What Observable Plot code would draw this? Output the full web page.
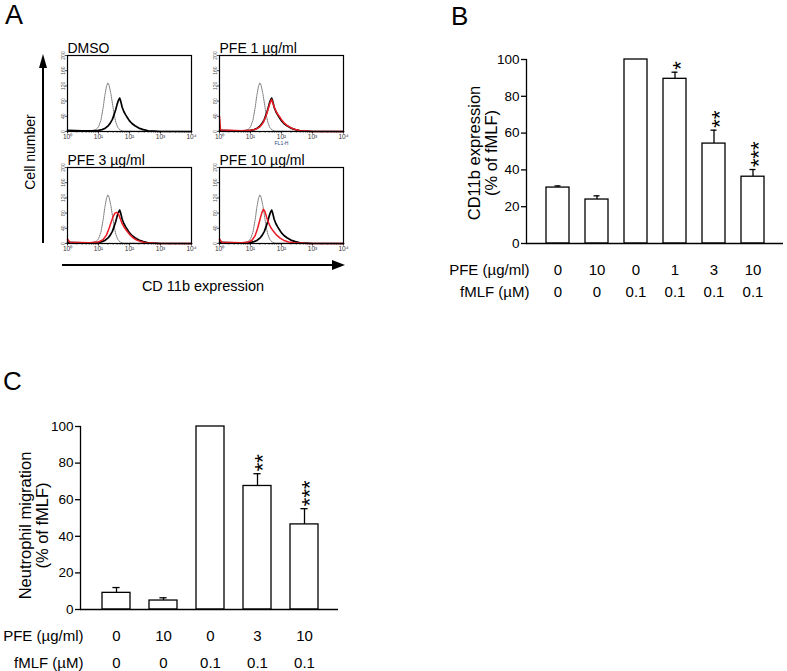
<!DOCTYPE html>
<html>
<head>
<meta charset="utf-8">
<script src="https://cdn.jsdelivr.net/npm/d3@7"></script>
<script src="https://cdn.jsdelivr.net/npm/@observablehq/plot@0.6"></script>
<style>
html,body{margin:0;padding:0;background:#fff;}
#root{position:relative;width:787px;height:671px;overflow:hidden;background:#fff;font-family:"Liberation Sans",Arial,Helvetica,sans-serif;color:#000;}
#root > *{position:absolute;}
.txt{white-space:nowrap;line-height:1;}
</style>
</head>
<body>
<div id="root"></div>
<script>
// ================= DATA =================
// ---- Panel A: CD11b flow-cytometry histograms (FL1-H, log scale) ----
const histTitles = ["DMSO", "PFE 1 µg/ml", "PFE 3 µg/ml", "PFE 10 µg/ml"];
const histDecades = [1, 10, 100, 1000, 10000];
const histDecadeLabels = ["10⁰", "10¹", "10²", "10³", "10⁴"];
const histYTicks = [0, 40, 80, 120, 160, 200];
const histXLabel = "FL1-H";
const panelAYLabel = "Cell number";
const panelAXLabel = "CD 11b expression";

// resting control (grey dotted)
const isoX = [1, 3, 6, 8, 10, 12, 14, 16, 18, 20, 22, 25, 28, 32, 36, 42, 50, 60, 10000];
const isoY = [2, 1, 2, 4, 12, 30, 60, 95, 118, 128, 122, 100, 75, 45, 25, 10, 4, 1, 0];
// fMLF-stimulated (black)
const fmlfX = [1, 3, 6, 10, 13, 16, 20, 24, 28, 32, 36, 40, 44, 48, 52, 58, 66, 76, 88, 100, 120, 150, 200, 280, 400, 600, 1000, 10000];
const fmlfY = [3, 2, 2, 3, 5, 8, 14, 22, 32, 45, 58, 72, 82, 88, 80, 64, 52, 43, 35, 28, 21, 15, 9, 5, 2, 1, 0, 0];
// fMLF + PFE 1 µg/ml (red)
const pfe1X = [1, 1.08, 2, 5, 10, 15, 20, 26, 32, 38, 43, 48, 53, 60, 68, 78, 90, 100, 120, 150, 200, 280, 400, 600, 1000, 10000];
const pfe1Y = [40, 4, 3, 2, 3, 6, 12, 24, 42, 62, 76, 84, 74, 62, 52, 44, 37, 31, 23, 16, 10, 5, 2, 1, 0, 0];
// fMLF + PFE 3 µg/ml (red)
const pfe3X = [1, 1.2, 5, 10, 14, 18, 22, 26, 30, 34, 38, 44, 50, 58, 68, 80, 100, 130, 170, 230, 320, 500, 800, 10000];
const pfe3Y = [12, 3, 2, 4, 10, 22, 40, 58, 72, 80, 82, 78, 66, 52, 42, 34, 24, 15, 9, 5, 2, 1, 0, 0];
// fMLF + PFE 10 µg/ml (red)
const pfe10X = [1, 1.2, 5, 8, 11, 14, 17, 20, 23, 26, 29, 33, 38, 45, 55, 70, 90, 120, 170, 250, 400, 700, 10000];
const pfe10Y = [12, 3, 2, 3, 8, 20, 40, 62, 80, 90, 85, 70, 55, 42, 32, 22, 14, 8, 4, 2, 1, 0, 0];

// ---- Panel B: CD11b expression (% of fMLF) ----
const bCategories = ["Control", "PFE 10", "fMLF", "fMLF + PFE 1", "fMLF + PFE 3", "fMLF + PFE 10"];
const bValues = [30.4, 23.9, 100, 89.5, 54.3, 36.3];
const bSEM = [0.9, 2.0, 0, 3.6, 7.3, 3.9];
const bStars = ["", "", "", "*", "**", "***"];
const bPFE = ["0", "10", "0", "1", "3", "10"];
const bFMLF = ["0", "0", "0.1", "0.1", "0.1", "0.1"];
const bYLabel = ["CD11b expression", "(% of fMLF)"];

// ---- Panel C: Neutrophil migration (% of fMLF) ----
const cCategories = ["Control", "PFE 10", "fMLF", "fMLF + PFE 3", "fMLF + PFE 10"];
const cValues = [9.1, 4.9, 100, 67.5, 46.5];
const cSEM = [2.9, 1.5, 0, 6.7, 8.6];
const cStars = ["", "", "", "**", "***"];
const cPFE = ["0", "10", "0", "3", "10"];
const cFMLF = ["0", "0", "0.1", "0.1", "0.1"];
const cYLabel = ["Neutrophil migration", "(% of fMLF)"];

const yTicks = [0, 20, 40, 60, 80, 100];
const rowNames = ["PFE (µg/ml)", "fMLF (µM)"];
const panelLetters = ["A", "B", "C"];

// ================= DRAWING =================
const FONT = '"Liberation Sans", Arial, Helvetica, sans-serif';
const RED = "#ec1c24";
const root = document.getElementById("root");

function place(node, left, top) {
  node.style.left = left + "px";
  node.style.top = top + "px";
  root.appendChild(node);
}
function addText(str, {x, baseline, size, align = "left"}) {
  const d = document.createElement("div");
  d.className = "txt";
  d.textContent = str;
  d.style.fontSize = size + "px";
  d.style.left = x + "px";
  d.style.top = (baseline - 0.8465 * size) + "px";
  if (align === "center") d.style.transform = "translateX(-50%)";
  root.appendChild(d);
}
function addRotText(str, {cx, cy, size}) {
  const d = document.createElement("div");
  d.className = "txt";
  d.textContent = str;
  d.style.fontSize = size + "px";
  d.style.left = cx + "px";
  d.style.top = cy + "px";
  d.style.transform = "translate(-50%,-50%) rotate(-90deg)";
  root.appendChild(d);
}
function addBox(left, top, w, h, css = {}) {
  const d = document.createElement("div");
  Object.assign(d.style, {left: left + "px", top: top + "px", width: w + "px", height: h + "px"}, css);
  root.appendChild(d);
}

// ---------- Panel A ----------
const histMinor = [1, 10, 100, 1000].flatMap(b => [2, 3, 4, 5, 6, 7, 8, 9].map(k => k * b));
const curveIso = {x: isoX, y: isoY, stroke: "#7a7a7a", width: 1, dash: "1.2,1"};
const curveFmlf = {x: fmlfX, y: fmlfY, stroke: "#000", width: 1.7};
const histPanels = [
  {title: histTitles[0], curves: [curveIso, curveFmlf], fl: false, left: 67, top: 55},
  {title: histTitles[1], curves: [curveIso, curveFmlf, {x: pfe1X, y: pfe1Y, stroke: RED, width: 1.5}], fl: true, left: 219, top: 55},
  {title: histTitles[2], curves: [curveIso, curveFmlf, {x: pfe3X, y: pfe3Y, stroke: RED, width: 1.5}], fl: false, left: 67, top: 167},
  {title: histTitles[3], curves: [curveIso, curveFmlf, {x: pfe10X, y: pfe10Y, stroke: RED, width: 1.5}], fl: false, left: 219, top: 167}
];
const HM = {l: 12, r: 8, t: 20, b: 18, w: 124, h: 76};
for (const p of histPanels) {
  const marks = [
    Plot.axisY({ticks: histYTicks, tickSize: 2, tickPadding: 1, tickRotate: -90, fontSize: 5, color: "#555", label: null}),
    Plot.axisX({ticks: histMinor, tickSize: 1.5, tickFormat: () => "", label: null, color: "#444"}),
    Plot.axisX({ticks: histDecades, tickSize: 2.5, tickPadding: 0.5, tickFormat: d => histDecadeLabels[histDecades.indexOf(d)], fontSize: 6.5, label: null, color: "#333"})
  ];
  for (const c of p.curves) {
    marks.push(Plot.line(c.x.map((x, i) => ({x, y: c.y[i]})), {x: "x", y: "y", stroke: c.stroke, strokeWidth: c.width, strokeDasharray: c.dash, strokeLinejoin: "round"}));
  }
  marks.push(Plot.frame({stroke: "#000", strokeWidth: 1.2}));
  marks.push(Plot.text([p.title], {frameAnchor: "top-left", text: d => d, dy: -3, lineAnchor: "bottom", textAnchor: "start", fontSize: 14}));
  if (p.fl) marks.push(Plot.text([{x: 100, t: histXLabel}], {x: "x", text: "t", frameAnchor: "bottom", dy: 13, lineAnchor: "bottom", fontSize: 5, fill: "#2a3f7a"}));
  const svg = Plot.plot({
    width: HM.l + HM.w + HM.r, height: HM.t + HM.h + HM.b,
    marginLeft: HM.l, marginRight: HM.r, marginTop: HM.t, marginBottom: HM.b,
    x: {type: "log", domain: [1, 10000]},
    y: {domain: [0, 200]},
    style: {fontFamily: FONT, background: "none", overflow: "visible"},
    marks
  });
  place(svg, p.left - HM.l, p.top - HM.t);
}
// axis arrows of panel A (decorative)
addBox(42.25, 66, 1.5, 177, {background: "#000"});
addBox(39, 54, 0, 0, {borderLeft: "4px solid transparent", borderRight: "4px solid transparent", borderBottom: "14px solid #000"});
addBox(62, 264.25, 272, 1.5, {background: "#000"});
addBox(332, 260, 0, 0, {borderTop: "5px solid transparent", borderBottom: "5px solid transparent", borderLeft: "13px solid #000"});
addRotText(panelAYLabel, {cx: 30, cy: 152, size: 14});
addText(panelAXLabel, {x: 203, baseline: 291, size: 14.5, align: "center"});

// ---------- Panels B and C ----------
function barChart(o) {
  const data = o.categories.map((c, i) => ({c, v: o.values[i], e: o.sem[i], top: o.values[i] + o.sem[i], s: o.stars[i], pfe: o.pfe[i], fmlf: o.fmlf[i]}));
  const withErr = data.filter(d => d.e > 0);
  const withStar = data.filter(d => d.s);
  const SW = 1.3;
  return Plot.plot({
    width: o.width, height: o.height,
    marginLeft: o.ml, marginRight: o.mr, marginTop: o.mt, marginBottom: o.mb,
    x: {type: "band", domain: o.categories, paddingInner: 0.4, paddingOuter: o.po, align: o.align, axis: null},
    y: {domain: [0, 100], axis: null},
    style: {fontFamily: FONT, background: "none", overflow: "visible", color: "#000"},
    marks: [
      Plot.ruleX(withErr, {x: "c", y1: "v", y2: "top", stroke: "#000", strokeWidth: SW}),
      Plot.tickY(withErr, {x: "c", y: "top", stroke: "#000", strokeWidth: SW, insetLeft: o.capInset, insetRight: o.capInset}),
      Plot.barY(data, {x: "c", y: "v", fill: "#fff", stroke: "#000", strokeWidth: SW}),
      Plot.text(withStar, {x: "c", y: "top", text: "s", rotate: -90, textAnchor: "start", lineAnchor: "bottom", fontSize: 22, dx: 12.5, dy: -2.5}),
      Plot.axisY({ticks: yTicks, tickSize: 5, tickPadding: 2, fontSize: 13.5, label: null, strokeWidth: SW}),
      Plot.frame({anchor: "left", stroke: "#000", strokeWidth: SW}),
      Plot.ruleY([0], {stroke: "#000", strokeWidth: SW}),
      Plot.text([o.yLabel.join("\n")], {frameAnchor: "left", text: d => d, rotate: -90, textAnchor: "middle", lineAnchor: "bottom", lineHeight: 1.0, fontSize: 16.5, dx: o.labelDx, dy: o.labelDy}),
      Plot.text(data, {x: "c", text: "pfe", frameAnchor: "bottom", lineAnchor: "bottom", dy: o.row1, fontSize: 15}),
      Plot.text(data, {x: "c", text: "fmlf", frameAnchor: "bottom", lineAnchor: "bottom", dy: o.row2, fontSize: 15}),
      Plot.text([rowNames[0]], {frameAnchor: "bottom-left", text: d => d, textAnchor: "end", lineAnchor: "bottom", dx: 3, dy: o.row1, fontSize: 15}),
      Plot.text([rowNames[1]], {frameAnchor: "bottom-left", text: d => d, textAnchor: "end", lineAnchor: "bottom", dx: 3, dy: o.row2, fontSize: 15})
    ]
  });
}

place(barChart({
  categories: bCategories, values: bValues, sem: bSEM, stars: bStars, pfe: bPFE, fmlf: bFMLF, yLabel: bYLabel,
  width: 347, height: 265, ml: 86, mr: 4, mt: 19, mb: 62, po: 0.42, align: 0.53, capInset: 8.5,
  labelDx: -30, labelDy: 1.5, row1: 31, row2: 53
}), 440, 40);

place(barChart({
  categories: cCategories, values: cValues, sem: cSEM, stars: cStars, pfe: cPFE, fmlf: cFMLF, yLabel: cYLabel,
  width: 345, height: 271, ml: 80, mr: 7, mt: 26, mb: 62, po: 0.416, align: 0.53, capInset: 10.4,
  labelDx: -33, labelDy: 7.5, row1: 31, row2: 58
}), 0, 400);

// panel letters
addText(panelLetters[0], {x: 5, baseline: 25, size: 27});
addText(panelLetters[1], {x: 451, baseline: 25, size: 26});
addText(panelLetters[2], {x: 3, baseline: 390, size: 26});
</script>
</body>
</html>
